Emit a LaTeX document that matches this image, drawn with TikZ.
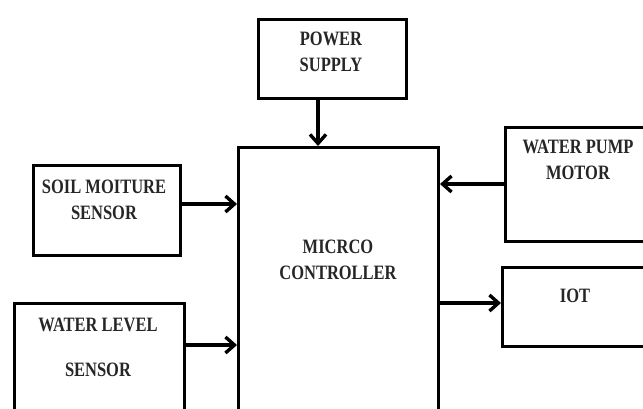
\documentclass[tikz,border=0pt]{standalone}
\usepackage{fontspec}
\setmainfont{Liberation Serif}
\usetikzlibrary{arrows.meta, positioning}
\newcommand{\hoog}[1]{\scalebox{0.97}[1.2]{#1}}
\tikzset{
    blok/.style = {draw=black, line width=3pt, anchor=north west, inner sep=0pt},
    tekst/.style = {font=\fontsize{17}{26}\selectfont\bfseries, align=center, text=black!85},
    lig/.style  = {-{Straight Barb[length=9pt, width=16pt]}, line width=3.4pt},
}
\begin{document}
\begin{tikzpicture}[x=1pt, y=-1pt]
    \useasboundingbox (0,0) rectangle (643,408);
    \clip (0,0) rectangle (643,408);
    % blocks
    \node[blok, minimum width=148pt, minimum height=79pt] (power) at (257,18) {};
    \node[blok, minimum width=200pt, minimum height=320pt] (ctrl) at (237,146) {};
    \node[blok, minimum width=147pt, minimum height=90pt] (soil) at (32,164) {};
    \node[blok, minimum width=170pt, minimum height=150pt] (level) at (13,302) {};
    \node[blok, minimum width=160pt, minimum height=114pt] (pump) at (504,126) {};
    \node[blok, minimum width=160pt, minimum height=79pt] (iot) at (501,266) {};
    % labels
    \node[tekst] (powertxt) at (331,52) {\hoog{POWER}\\\hoog{SUPPLY}};
    \node[tekst] (ctrltxt) at (338,260) {\hoog{MICRCO}\\\hoog{CONTROLLER}};
    \node[tekst] (soiltxt) at (104,200) {\hoog{SOIL MOITURE}\\\hoog{SENSOR}};
    \node[tekst, font=\fontsize{17}{45}\selectfont\bfseries] (leveltxt) at (98,347) {\hoog{WATER LEVEL}\\\hoog{SENSOR}};
    \node[tekst] (pumptxt) at (578,160) {\hoog{WATER PUMP}\\\hoog{MOTOR}};
    \node[tekst] (iottxt) at (575,296) {\hoog{IOT}};
    % connections
    \draw[lig] (power.south -| 318,0) -- (ctrl.north -| 318,0);
    \draw[lig] (soil.east |- 0,204) -- (ctrl.west |- 0,204);
    \draw[lig] (level.east |- 0,345) -- (ctrl.west |- 0,345);
    \draw[lig] (pump.west |- 0,184) -- (ctrl.east |- 0,184);
    \draw[lig] (ctrl.east |- 0,303) -- (iot.west |- 0,303);
\end{tikzpicture}
\end{document}
